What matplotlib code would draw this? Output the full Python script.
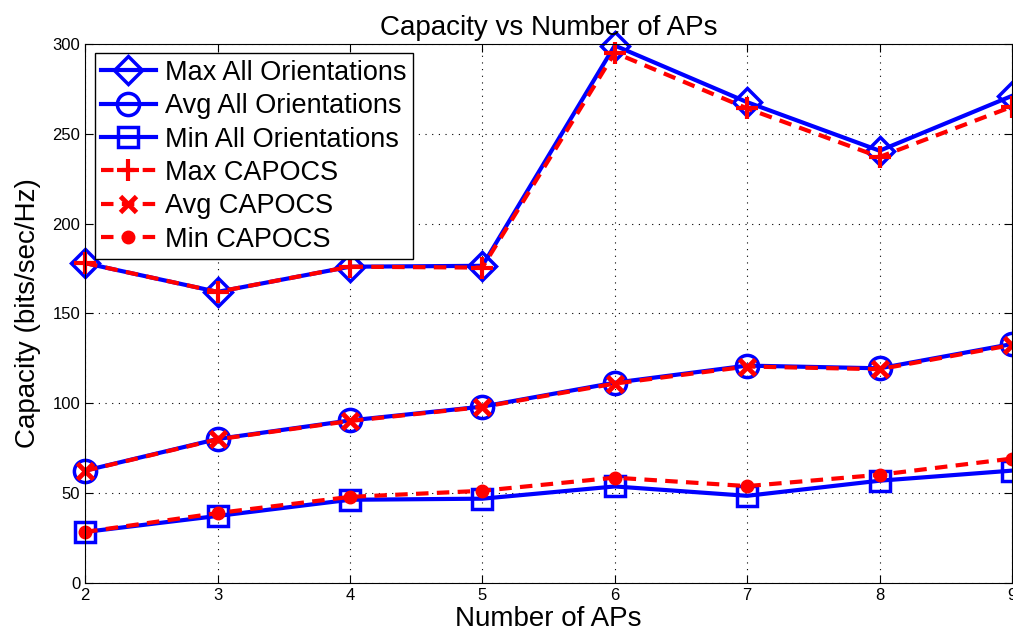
import matplotlib
matplotlib.use("Agg")
import matplotlib.pyplot as plt

plt.rcParams["font.family"] = ["Liberation Sans", "DejaVu Sans"]

aps = [2, 3, 4, 5, 6, 7, 8, 9]
max_all = [178, 162, 176, 176.5, 299, 267.5, 240.5, 271]
avg_all = [62.6, 80.2, 90.5, 98.2, 111.5, 121, 119.5, 133]
min_all = [28.5, 37.4, 46.4, 47, 53.8, 48.6, 57, 62.6]
max_capocs = [178, 162, 176, 175.5, 295, 264, 237, 265]
avg_capocs = [62.5, 80, 90.2, 98, 111, 120.5, 119, 132.5]
min_capocs = [28.5, 39, 48, 51.4, 58.7, 54, 60.3, 69.3]

fig = plt.figure(figsize=(10.13, 6.43), dpi=100)
ax = fig.add_axes([0.084, 0.093, 0.915, 0.839])

blue = "#0000ff"
red = "#ff0000"
lw = 3
dash = (0, (3, 2))

ax.plot(aps, max_all, color=blue, lw=lw, marker="D", ms=14, mfc="none", mew=2.5,
        label="Max All Orientations", clip_on=False)
ax.plot(aps, avg_all, color=blue, lw=lw, marker="o", ms=16, mfc="none", mew=2.5,
        label="Avg All Orientations", clip_on=False)
ax.plot(aps, min_all, color=blue, lw=lw, marker="s", ms=14, mfc="none", mew=2.5,
        label="Min All Orientations", clip_on=False)
ax.plot(aps, max_capocs, color=red, lw=lw, ls=dash, marker="+", ms=16, mew=3,
        label="Max CAPOCS", clip_on=False)
ax.plot(aps, avg_capocs, color=red, lw=lw, ls=dash, marker="x", ms=11, mew=3.5,
        label="Avg CAPOCS", clip_on=False)
ax.plot(aps, min_capocs, color=red, lw=lw, ls=dash, marker="o", ms=9,
        label="Min CAPOCS", clip_on=False)

ax.set_xlim(2, 9)
ax.set_ylim(0, 300)
ax.set_xticks(aps)
ax.set_yticks(range(0, 301, 50))
ax.grid(True, color="black", ls=(0, (1, 5)), lw=0.8)
ax.tick_params(direction="in", top=True, right=True, labelsize=12, length=6)

ax.set_title("Capacity vs Number of APs", fontsize=20, pad=6)
ax.set_xlabel("Number of APs", fontsize=20, labelpad=2)
ax.set_ylabel("Capacity (bits/sec/Hz)", fontsize=20, labelpad=8)

leg = ax.legend(loc="upper left", fontsize=19.5, frameon=True, fancybox=False,
                edgecolor="black", handlelength=2.0, labelspacing=0.27,
                borderaxespad=0.35, handletextpad=0.35, borderpad=0.25,
                framealpha=1)
leg.get_frame().set_linewidth(1)
leg.set_zorder(5)

fig.savefig("out.png", dpi=100)
